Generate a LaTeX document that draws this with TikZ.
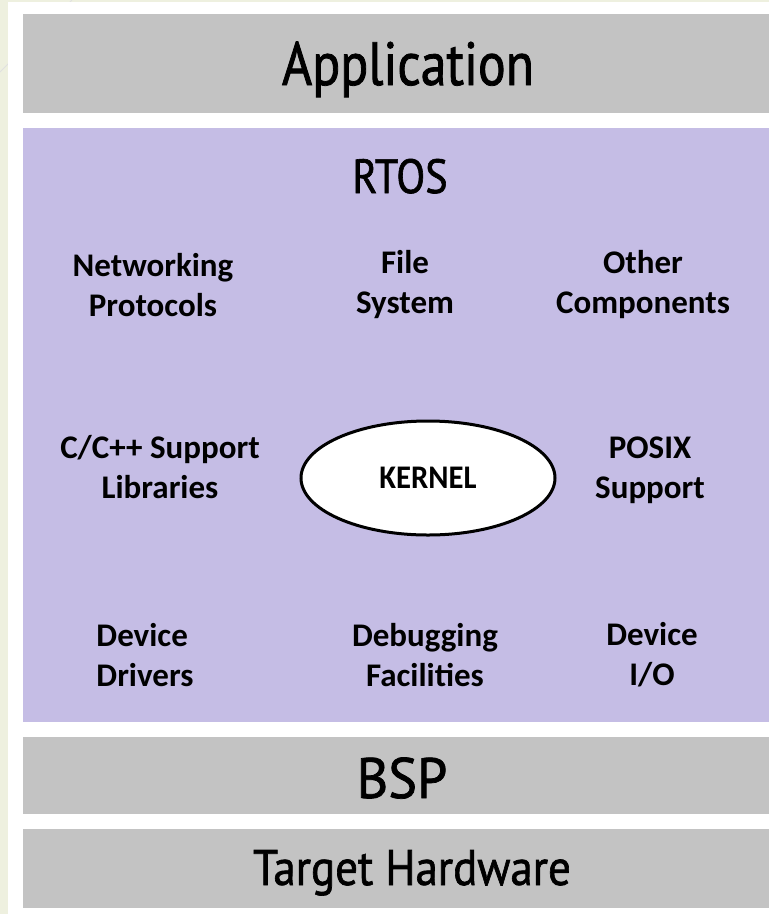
\documentclass[tikz,border=0pt]{standalone}
\usepackage{fontspec}
\setmainfont{Carlito}
\newfontfamily\headfont[FakeBold=1.3]{PT Sans}
\definecolor{bandgray}{HTML}{C3C3C3}
\definecolor{rtospurple}{HTML}{C5BDE5}
\definecolor{slidebg}{HTML}{EEF0DF}
\usetikzlibrary{shapes.geometric}
\tikzset{
  band/.style={draw=none, anchor=north west, minimum width=746pt, inner sep=0pt},
  head/.style={anchor=base, inner sep=0pt},
  comp/.style={align=center, inner sep=0pt, font=\fontsize{33}{40}\selectfont\bfseries},
  kernel/.style={ellipse, draw=black, line width=3pt, fill=white, minimum width=254pt, minimum height=114pt, inner sep=0pt, font=\fontsize{33}{36}\selectfont\bfseries}
}
\begin{document}
\begin{tikzpicture}[x=1pt,y=-1pt]
\useasboundingbox (0,0) rectangle (769,914);
\fill[slidebg] (0,0) rectangle (769,914);
\draw[black!12, line width=0.8pt] (0,72) -- (72,0);
\fill[white] (8,2) rectangle (769,914);
% bands
\node[band, fill=bandgray, minimum height=99pt] (appband) at (23,14) {};
\node[band, fill=rtospurple, minimum height=594pt] (rtosband) at (23,128) {};
\node[band, fill=bandgray, minimum height=77pt] (bspband) at (23,737) {};
\node[band, fill=bandgray, minimum height=79pt] (hwband) at (23,829) {};
% headings
\node[head, font={\headfont\addfontfeatures{FakeStretch=0.85}\fontsize{61}{64}\selectfont}] (app) at (408,85) {Application};
\node[head, font={\headfont\addfontfeatures{FakeStretch=0.88}\fontsize{48}{50}\selectfont}] (rtos) at (400,193) {RTOS};
\node[head, font={\headfont\addfontfeatures{FakeStretch=0.95}\fontsize{57}{60}\selectfont}] (bsp) at (402,798) {BSP};
\node[head, font={\headfont\addfontfeatures{FakeStretch=0.9}\fontsize{50}{52}\selectfont}] (hw) at (412,885) {Target Hardware};
% components
\node[comp] (net) at (153,285) {Networking\\Protocols};
\node[comp] (fs) at (405,285) {File\\System};
\node[comp] (other) at (643,285) {Other\\Components};
\node[comp] (clib) at (160,467) {C/C++ Support\\Libraries};
\node[kernel] (kern) at (428,478) {\addfontfeatures{FakeStretch=0.93}KERNEL};
\node[comp] (posix) at (650,470) {POSIX\\Support};
\node[comp, align=left] (drv) at (145,655) {Device\\Drivers};
\node[comp] (dbg) at (425,655) {Debugging\\Facilities};
\node[comp] (dio) at (652,655) {Device\\I/O};
\end{tikzpicture}
\end{document}
